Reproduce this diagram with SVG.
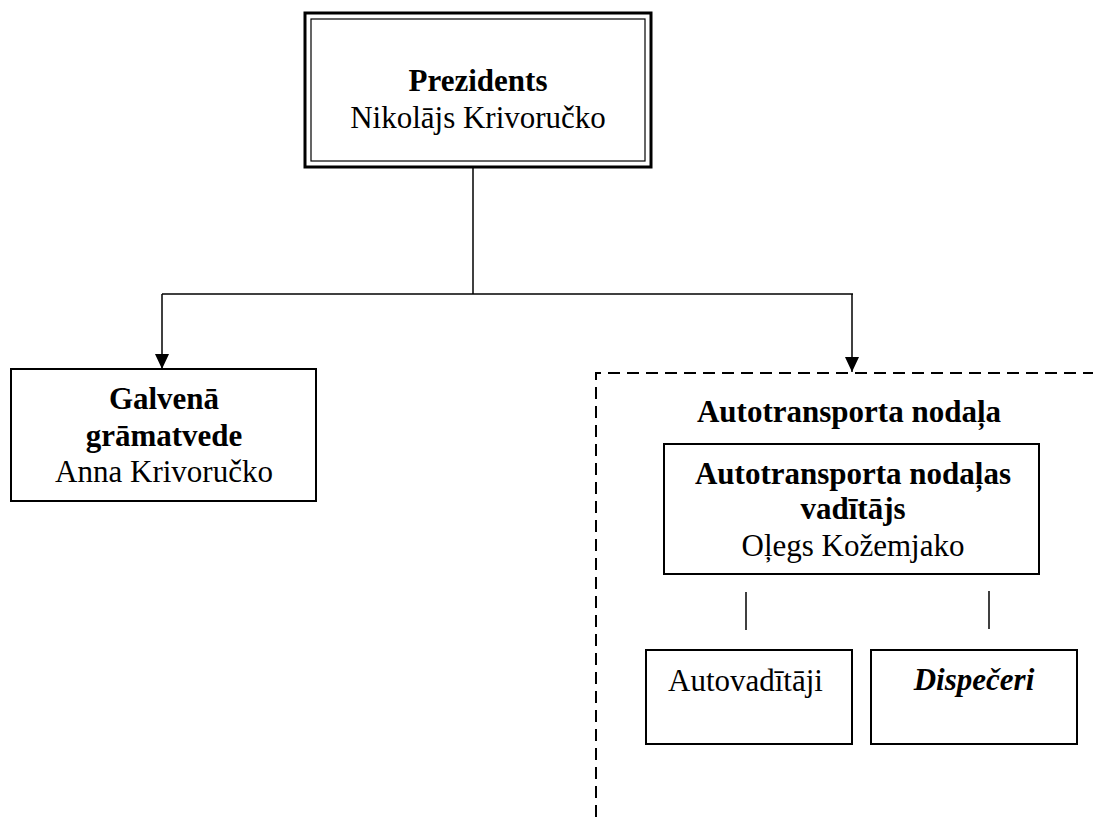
<svg xmlns="http://www.w3.org/2000/svg" width="1093" height="817" viewBox="0 0 1093 817">
<style>
  .box{fill:#fff;stroke:#000;stroke-width:2}
  .t{font-family:"Liberation Serif","Times New Roman",serif;font-size:31px;fill:#000;text-anchor:middle}
  .b{font-weight:bold}
  .bi{font-weight:bold;font-style:italic}
  .ln{stroke:#000;stroke-width:1.5;fill:none}
  .dash{stroke:#000;stroke-width:2;fill:none;stroke-dasharray:12 7}
</style>
<defs>
  <marker id="arr" markerUnits="userSpaceOnUse" markerWidth="16" markerHeight="14" refX="15" refY="7" orient="auto">
    <path d="M0,0 L15,7 L0,14 Z" fill="#000"/>
  </marker>
</defs>
<rect width="1093" height="817" fill="#fff"/>
<g id="connectors">
  <line class="ln" x1="473" y1="167" x2="473" y2="294"/>
  <line class="ln" x1="162" y1="294" x2="853" y2="294"/>
  <line class="ln" x1="162" y1="294" x2="162" y2="369" marker-end="url(#arr)"/>
  <line class="ln" x1="852" y1="294" x2="852" y2="372" marker-end="url(#arr)"/>
  <line class="ln" x1="746" y1="592" x2="746" y2="630"/>
  <line class="ln" x1="989" y1="591" x2="989" y2="629"/>
</g>
<g id="president">
  <rect x="305" y="13" width="346" height="154" fill="#fff" stroke="#000" stroke-width="3"/>
  <rect x="311" y="19" width="334" height="142" fill="none" stroke="#000" stroke-width="1.2"/>
  <text class="t b" x="478" y="91">Prezidents</text>
  <text class="t" x="478" y="128">Nikolājs Krivoručko</text>
</g>
<g id="accountant">
  <rect class="box" x="11" y="369" width="305" height="132"/>
  <text class="t b" x="164" y="409">Galvenā</text>
  <text class="t b" x="164" y="446">grāmatvede</text>
  <text class="t" x="164" y="482">Anna Krivoručko</text>
</g>
<g id="transport-dept">
  <path class="dash" d="M596,817 L596,373 L1093,373"/>
  <text class="t b" x="849" y="422">Autotransporta nodaļa</text>
</g>
<g id="dept-head">
  <rect class="box" x="664" y="444" width="375" height="130"/>
  <text class="t b" x="853" y="484">Autotransporta nodaļas</text>
  <text class="t b" x="853" y="519">vadītājs</text>
  <text class="t" x="853" y="556">Oļegs Kožemjako</text>
</g>
<g id="drivers">
  <rect class="box" x="646" y="650" width="206" height="94"/>
  <text class="t" x="668" y="691" style="text-anchor:start">Autovadītāji</text>
</g>
<g id="dispatchers">
  <rect class="box" x="871" y="650" width="206" height="94"/>
  <text class="t bi" x="974" y="690">Dispečeri</text>
</g>
</svg>
